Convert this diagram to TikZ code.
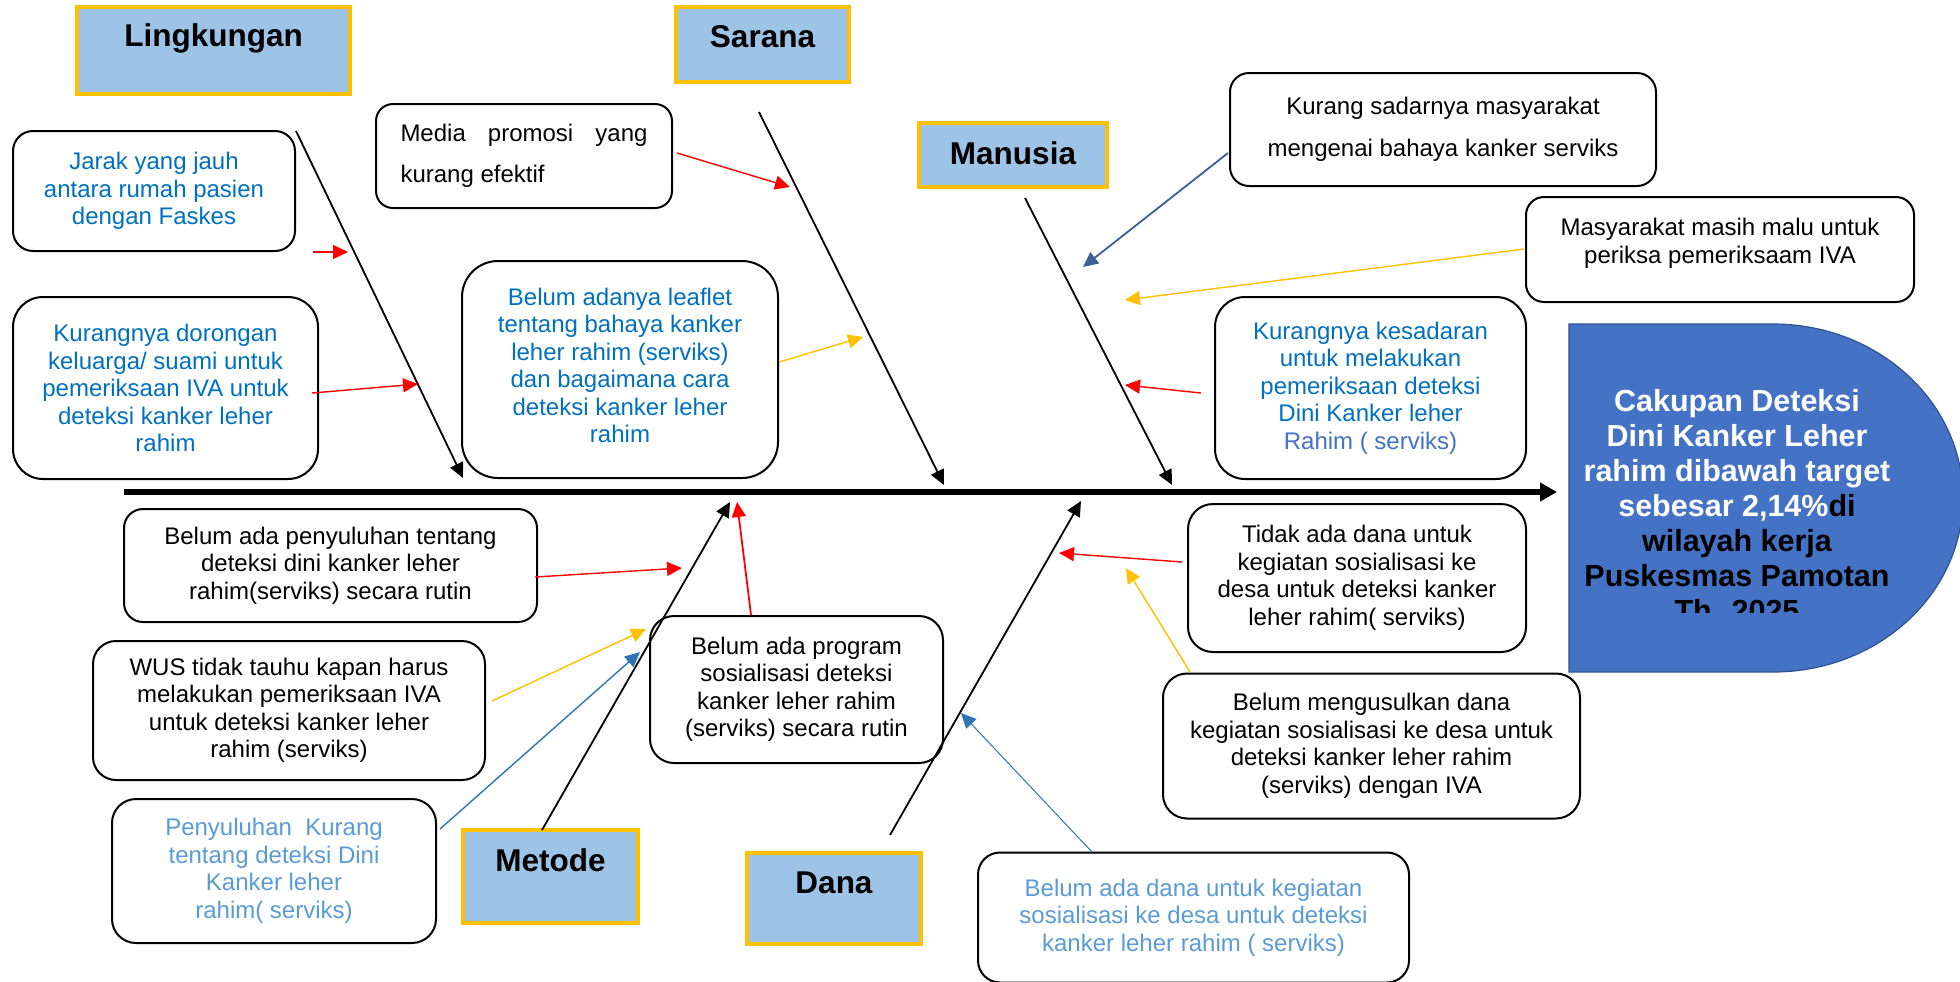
\documentclass[tikz,border=0pt]{standalone}
\usepackage{fontspec}
\setmainfont{Liberation Sans}
\usetikzlibrary{arrows.meta}
\definecolor{catfill}{HTML}{9DC3E6}
\definecolor{catedge}{HTML}{FFC000}
\definecolor{txtblue}{HTML}{0070C0}
\definecolor{ltblue}{HTML}{5B9BD5}
\definecolor{midblue}{HTML}{4472C4}
\definecolor{headfill}{HTML}{4472C4}
\definecolor{headedge}{HTML}{2F528F}
\definecolor{arrred}{HTML}{FF0000}
\definecolor{arryel}{HTML}{FFC000}
\definecolor{arrblue}{HTML}{2E75B6}
\definecolor{arrdark}{HTML}{3B5F95}
\begin{document}
\begin{tikzpicture}[x=0.5pt,y=-0.5pt,
  causebox/.style={draw=black, line width=1pt, fill=white, align=center, inner sep=0pt,
    font=\fontsize{12}{13.75}\selectfont},
  catbox/.style={draw=catedge, line width=2pt, fill=catfill, inner sep=0pt,
    font=\bfseries\fontsize{15.75}{18}\selectfont, text height=11.3pt, text depth=#1},
  bone/.style={draw=black, line width=0.9pt, -{Triangle[length=7.5pt,width=7pt]}},
  spine/.style={draw=black, line width=3pt, -{Triangle[length=8.5pt,width=9pt]}},
  carrow/.style={draw=#1, line width=0.7pt, -{Triangle[length=7.5pt,width=7pt]}}
]
\useasboundingbox (0,0) rectangle (1960,981);

% ---------- head ----------
\path[fill=headfill, draw=headedge, line width=0.6pt]
  (1569,324) -- (1773,324) arc[start angle=-90, end angle=90, x radius=190, y radius=174]
  -- (1569,672) -- cycle;
\begin{scope}
  \clip (1560,330) rectangle (1960,612);
  \node[align=center, inner sep=0pt, text=black, font=\bfseries\fontsize{15.25}{17.5}\selectfont]
    (head) at (1737,506)
    {\textcolor{white}{Cakupan Deteksi}\\\textcolor{white}{Dini Kanker Leher}\\\textcolor{white}{rahim dibawah target}\\\textcolor{white}{sebesar 2,14\%}di\\wilayah kerja\\Puskesmas Pamotan\\Th. 2025};
\end{scope}

% ---------- category boxes ----------
\node[catbox=15pt, minimum width=136.5pt, minimum height=43.5pt] (lingk) at (213.5,50.5) {Lingkungan};
\node[catbox=8pt, minimum width=86.5pt, minimum height=37.5pt] (sarana) at (762.5,44.5) {Sarana};
\node[catbox=2pt, minimum width=94pt, minimum height=32pt] (manusia) at (1013,155) {Manusia};
\node[catbox=16pt, minimum width=87.5pt, minimum height=46.5pt] (metode) at (550.5,876.5) {Metode};
\node[catbox=16pt, minimum width=87pt, minimum height=45.5pt] (dana) at (834,898.5) {Dana};

% ---------- cause boxes ----------
\node[causebox, rounded corners=10pt, minimum width=141pt, minimum height=60pt, text=txtblue] (a) at (154,191)
  {Jarak yang jauh\\antara rumah pasien\\dengan Faskes};
\node[causebox, rounded corners=15pt, minimum width=152.5pt, minimum height=91pt, text=txtblue] (b) at (165.5,388)
  {Kurangnya dorongan\\keluarga/ suami untuk\\pemeriksaan IVA untuk\\deteksi kanker leher\\rahim};
\node[causebox, rounded corners=8.5pt, minimum width=148pt, minimum height=52pt, align=justify, text width=123.5pt,
  font=\fontsize{12}{20.5}\selectfont] (c) at (524,156)
  {Media promosi yang kurang efektif};
\node[causebox, rounded corners=18pt, minimum width=158pt, minimum height=108.5pt, text=txtblue] (d) at (620,369.5)
  {Belum adanya leaflet\\tentang bahaya kanker\\leher rahim (serviks)\\dan bagaimana cara\\deteksi kanker leher\\rahim\\[-9.75pt]\mbox{}};
\node[causebox, rounded corners=9.5pt, minimum width=213pt, minimum height=56.5pt, font=\fontsize{12}{21}\selectfont] (e) at (1443,129.5)
  {Kurang sadarnya masyarakat\\mengenai bahaya kanker serviks};
\node[causebox, rounded corners=9pt, minimum width=194pt, minimum height=52.5pt] (f) at (1720,249.5)
  {Masyarakat masih malu untuk\\periksa pemeriksaam IVA\\[-5.25pt]\mbox{}};
\node[causebox, rounded corners=15pt, minimum width=155.5pt, minimum height=91pt, text=txtblue] (g) at (1370.5,388)
  {Kurangnya kesadaran\\untuk melakukan\\pemeriksaan deteksi\\Dini Kanker leher\\\textcolor{midblue}{Rahim ( serviks)}};
\node[causebox, rounded corners=9.5pt, minimum width=206.5pt, minimum height=56.5pt] (h) at (330.5,565.5)
  {Belum ada penyuluhan tentang\\deteksi dini kanker leher\\rahim(serviks) secara rutin};
\node[causebox, rounded corners=11.5pt, minimum width=196pt, minimum height=69.5pt] (i) at (289,710.5)
  {WUS tidak tauhu kapan harus\\melakukan pemeriksaan IVA\\untuk deteksi kanker leher\\rahim (serviks)};
\node[causebox, rounded corners=12pt, minimum width=162pt, minimum height=72pt, text=ltblue] (j) at (274,871)
  {Penyuluhan\ \ Kurang\\tentang deteksi Dini\\Kanker leher\\rahim( serviks)};
\node[causebox, rounded corners=12pt, minimum width=146.5pt, minimum height=73.5pt] (k) at (796.5,689.5)
  {Belum ada program\\sosialisasi deteksi\\kanker leher rahim\\(serviks) secara rutin};
\node[causebox, rounded corners=12.5pt, minimum width=169pt, minimum height=74pt] (l) at (1357,578)
  {Tidak ada dana untuk\\kegiatan sosialisasi ke\\desa untuk deteksi kanker\\leher rahim( serviks)};
\node[causebox, rounded corners=12pt, minimum width=208.5pt, minimum height=72.5pt] (m) at (1371.5,746)
  {Belum mengusulkan dana\\kegiatan sosialisasi ke desa untuk\\deteksi kanker leher rahim\\(serviks) dengan IVA};
\node[causebox, rounded corners=11pt, minimum width=215.5pt, minimum height=65pt, text=ltblue] (n) at (1193.5,917.5)
  {Belum ada dana untuk kegiatan\\sosialisasi ke desa untuk deteksi\\kanker leher rahim ( serviks)};

% ---------- coordinates ----------
\coordinate (spS) at (124,492);  \coordinate (spE) at (1557,492);
\coordinate (lgS) at (296,131);  \coordinate (lgE) at (463,478);
\coordinate (srS) at (759,112);  \coordinate (srE) at (944,485);
\coordinate (mnS) at (1025,198); \coordinate (mnE) at (1172,485);
\coordinate (mtS) at (542,830);  \coordinate (mtE) at (730,502);
\coordinate (dnS) at (890,835);  \coordinate (dnE) at (1081,501);

\coordinate (aS) at (313,252);  \coordinate (aE) at (348,252);
\coordinate (bS) at (312,393);  \coordinate (bE) at (418,384);
\coordinate (cS) at (677,153);  \coordinate (cE) at (790,187);
\coordinate (dS) at (779,362);  \coordinate (dE) at (863,337);
\coordinate (eS) at (1228,153); \coordinate (eE) at (1083,267);
\coordinate (fS) at (1524,249); \coordinate (fE) at (1125,300);
\coordinate (gS) at (1201,393); \coordinate (gE) at (1125,385);
\coordinate (hS) at (535,577);  \coordinate (hE) at (682,568);
\coordinate (iS) at (492,701);  \coordinate (iE) at (646,629);
\coordinate (jS) at (440,829);  \coordinate (jE) at (640,652);
\coordinate (kS) at (751,615);  \coordinate (kE) at (737,502);
\coordinate (lS) at (1182,562); \coordinate (lE) at (1059,553);
\coordinate (mS) at (1190,672); \coordinate (mE) at (1126,568);
\coordinate (nS) at (1092,852); \coordinate (nE) at (961,713);

% ---------- spine and bones ----------
\draw[spine] (spS) -- (spE);
\draw[bone] (lgS) -- (lgE);
\draw[bone] (srS) -- (srE);
\draw[bone] (mnS) -- (mnE);
\draw[bone] (mtS) -- (mtE);
\draw[bone] (dnS) -- (dnE);

% ---------- cause arrows ----------
\draw[carrow=arrred] (aS) -- (aE);
\draw[carrow=arrred] (bS) -- (bE);
\draw[carrow=arrred] (cS) -- (cE);
\draw[carrow=arryel] (dS) -- (dE);
\draw[carrow=arrdark, line width=0.9pt] (eS) -- (eE);
\draw[carrow=arryel] (fS) -- (fE);
\draw[carrow=arrred] (gS) -- (gE);
\draw[carrow=arrred] (hS) -- (hE);
\draw[carrow=arryel] (iS) -- (iE);
\draw[carrow=arrblue] (jS) -- (jE);
\draw[carrow=arrred, line width=0.9pt] (kS) -- (kE);
\draw[carrow=arrred] (lS) -- (lE);
\draw[carrow=arryel] (mS) -- (mE);
\draw[carrow=arrblue, line width=0.5pt] (nS) -- (nE);
\end{tikzpicture}
\end{document}
